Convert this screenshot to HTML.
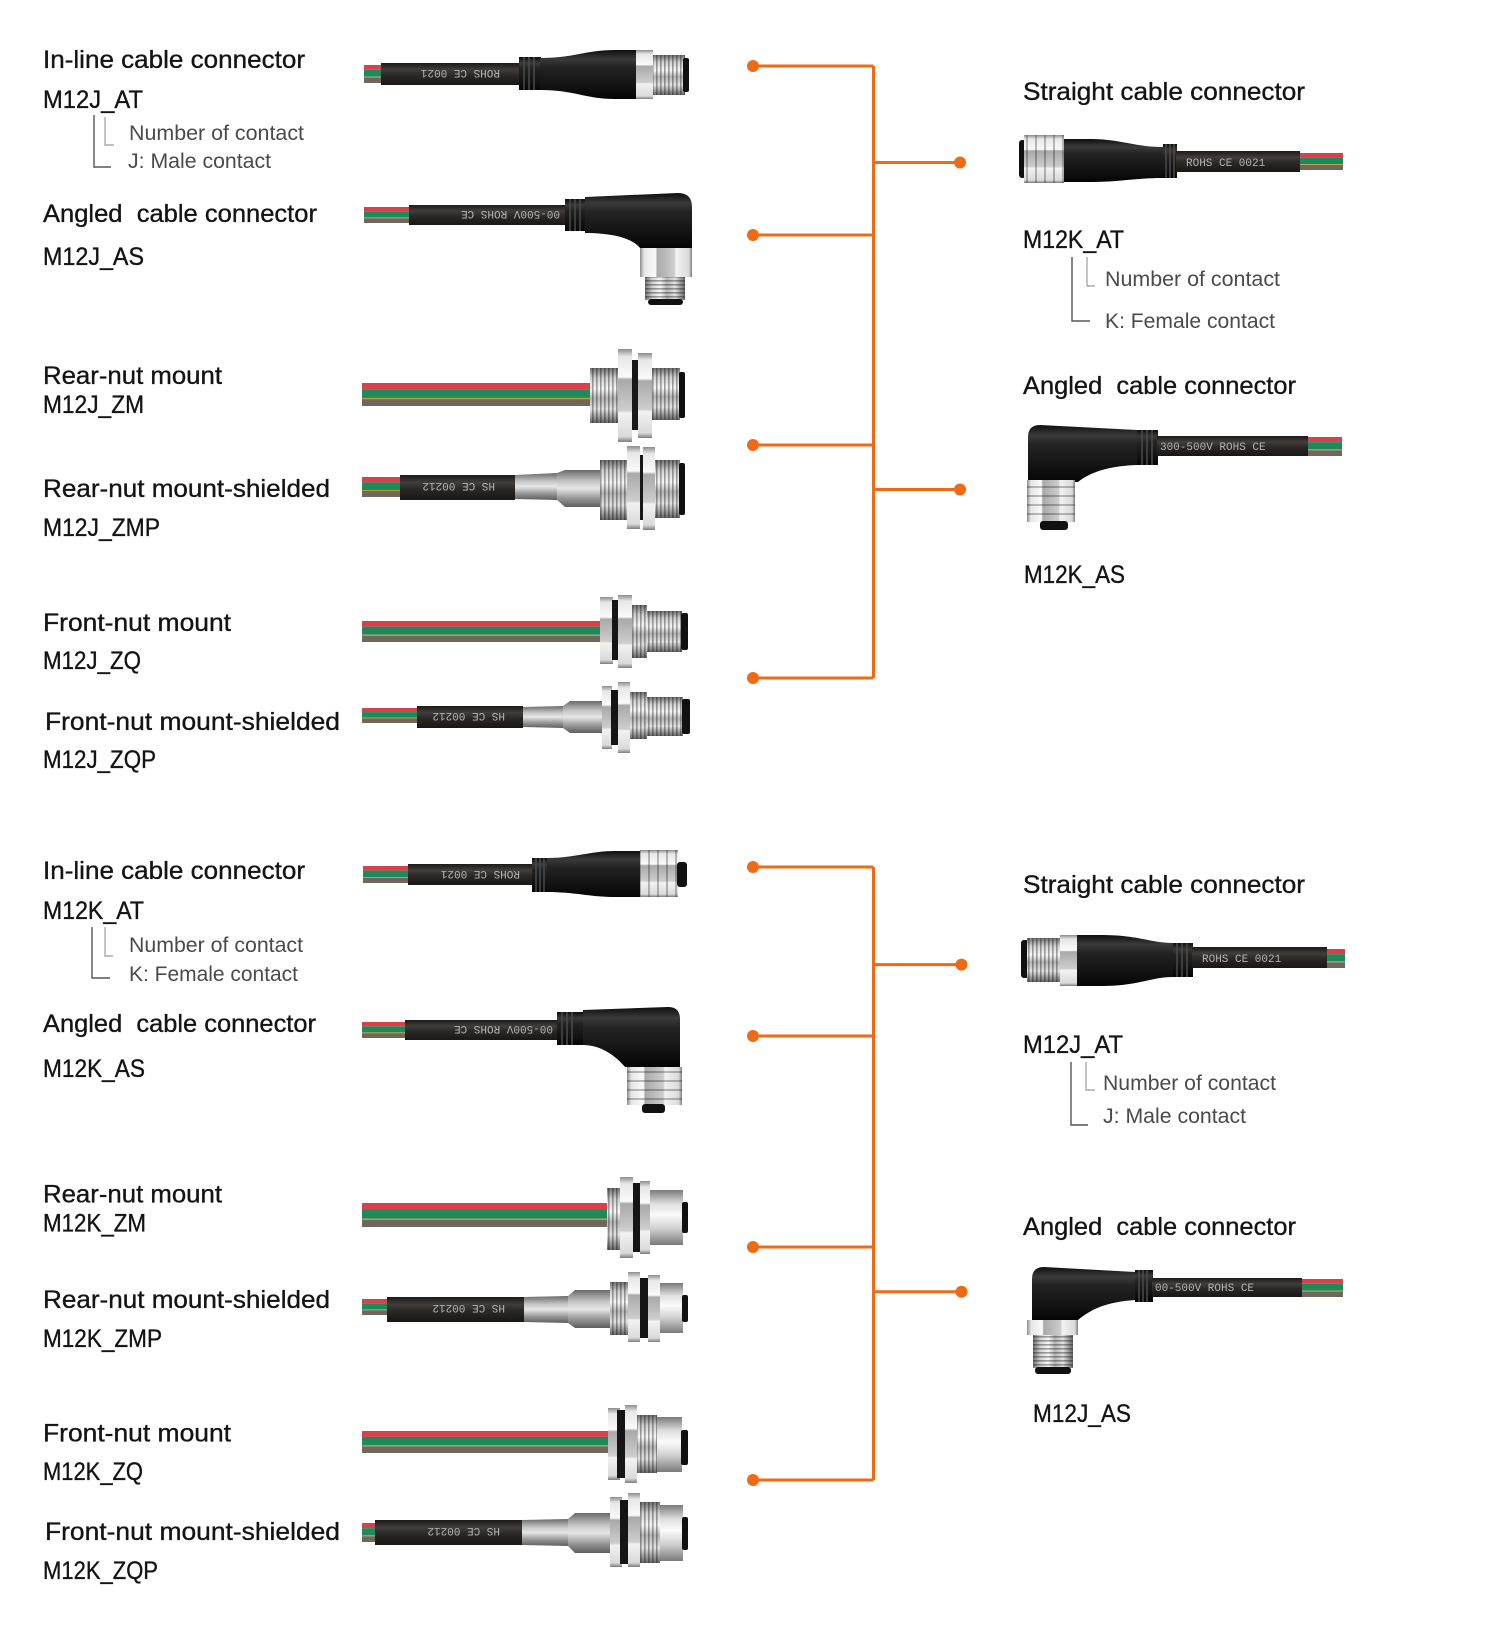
<!DOCTYPE html>
<html><head><meta charset="utf-8">
<style>
html,body{margin:0;padding:0;background:#fff;}
svg{display:block;}
.t{font-family:"Liberation Sans",sans-serif;font-size:25px;fill:#141414;stroke:#141414;stroke-width:0.35;white-space:pre;}
.s{font-family:"Liberation Sans",sans-serif;font-size:21px;fill:#4a4a4a;white-space:pre;}
.p{font-family:"Liberation Mono",monospace;font-size:11px;fill:#b5b5b5;white-space:pre;}
</style></head><body>
<svg width="1488" height="1625" viewBox="0 0 1488 1625" xmlns="http://www.w3.org/2000/svg" xmlns:xlink="http://www.w3.org/1999/xlink">
<defs>
<linearGradient id="mt" x1="0" y1="0" x2="0" y2="1"><stop offset="0" stop-color="#6f6f6f"/><stop offset=".18" stop-color="#cfcfcf"/><stop offset=".38" stop-color="#f7f7f7"/><stop offset=".55" stop-color="#b5b5b5"/><stop offset=".75" stop-color="#e2e2e2"/><stop offset="1" stop-color="#666"/></linearGradient>
<linearGradient id="mtx" x1="0" y1="0" x2="1" y2="0"><stop offset="0" stop-color="#6f6f6f"/><stop offset=".18" stop-color="#cfcfcf"/><stop offset=".38" stop-color="#f7f7f7"/><stop offset=".55" stop-color="#b5b5b5"/><stop offset=".75" stop-color="#e2e2e2"/><stop offset="1" stop-color="#666"/></linearGradient>
<linearGradient id="hx" x1="0" y1="0" x2="0" y2="1"><stop offset="0" stop-color="#8c8c8c"/><stop offset=".08" stop-color="#e6e6e6"/><stop offset=".3" stop-color="#fafafa"/><stop offset=".33" stop-color="#a9a9a9"/><stop offset=".66" stop-color="#cdcdcd"/><stop offset=".69" stop-color="#f2f2f2"/><stop offset=".94" stop-color="#dadada"/><stop offset="1" stop-color="#7c7c7c"/></linearGradient>
<linearGradient id="hxx" x1="0" y1="0" x2="1" y2="0"><stop offset="0" stop-color="#8c8c8c"/><stop offset=".08" stop-color="#e6e6e6"/><stop offset=".3" stop-color="#fafafa"/><stop offset=".33" stop-color="#a9a9a9"/><stop offset=".66" stop-color="#cdcdcd"/><stop offset=".69" stop-color="#f2f2f2"/><stop offset=".94" stop-color="#dadada"/><stop offset="1" stop-color="#7c7c7c"/></linearGradient>
<linearGradient id="bk" x1="0" y1="0" x2="0" y2="1"><stop offset="0" stop-color="#0e0e0e"/><stop offset=".18" stop-color="#3a3a3a"/><stop offset=".35" stop-color="#232323"/><stop offset=".7" stop-color="#141414"/><stop offset="1" stop-color="#050505"/></linearGradient>
<linearGradient id="cb" x1="0" y1="0" x2="0" y2="1"><stop offset="0" stop-color="#1c1b1a"/><stop offset=".3" stop-color="#403d3a"/><stop offset=".55" stop-color="#2b2927"/><stop offset="1" stop-color="#181716"/></linearGradient>
<linearGradient id="sm" x1="0" y1="0" x2="0" y2="1"><stop offset="0" stop-color="#7a7a7a"/><stop offset=".25" stop-color="#dedede"/><stop offset=".45" stop-color="#fbfbfb"/><stop offset=".7" stop-color="#d0d0d0"/><stop offset="1" stop-color="#7a7a7a"/></linearGradient>
<linearGradient id="st" x1="0" y1="0" x2="0" y2="1"><stop offset="0" stop-color="#6a6a6a"/><stop offset=".3" stop-color="#c4c4c4"/><stop offset=".5" stop-color="#e6e6e6"/><stop offset=".75" stop-color="#9a9a9a"/><stop offset="1" stop-color="#5e5e5e"/></linearGradient>
<pattern id="th" width="4" height="4" patternUnits="userSpaceOnUse"><rect width="1.6" height="4" fill="#000" fill-opacity=".35"/></pattern>
<pattern id="thh" width="4" height="4" patternUnits="userSpaceOnUse"><rect width="4" height="1.6" fill="#000" fill-opacity=".35"/></pattern>
<pattern id="kn" width="9" height="12" patternUnits="userSpaceOnUse"><rect width="2" height="12" fill="#000" fill-opacity=".25"/></pattern>
<pattern id="knh" width="12" height="9" patternUnits="userSpaceOnUse"><rect width="12" height="2" fill="#000" fill-opacity=".25"/></pattern>
<symbol id="w" viewBox="0 0 10 100" preserveAspectRatio="none">
<rect x="0" y="0" width="10" height="27" fill="#d8404c"/>
<rect x="0" y="27" width="10" height="38" fill="#1e8a5c"/>
<rect x="0" y="65" width="10" height="5" fill="#b8a030"/>
<rect x="0" y="70" width="10" height="30" fill="#6f675d"/>
</symbol>
</defs>

<!-- ========== ORANGE CONNECTORS ========== -->
<g stroke="#ee6a14" stroke-width="3" fill="none">
<path d="M873.5,66 V678 M753,66 H873.5 M753,235 H873.5 M753,445 H873.5 M753,678 H873.5 M873.5,162.5 H960 M873.5,489.5 H960"/>
<path d="M873.5,867 V1480 M753,867 H873.5 M753,1036 H873.5 M753,1247 H873.5 M753,1480 H873.5 M873.5,964.6 H961.5 M873.5,1291.7 H961.5"/>
</g>
<g fill="#ee6a14">
<circle cx="753" cy="66" r="6"/><circle cx="753" cy="235" r="6"/><circle cx="753" cy="445" r="6"/><circle cx="753" cy="678" r="6"/>
<circle cx="960" cy="162.5" r="6"/><circle cx="960" cy="489.5" r="6"/>
<circle cx="753" cy="867" r="6"/><circle cx="753" cy="1036" r="6"/><circle cx="753" cy="1247" r="6"/><circle cx="753" cy="1480" r="6"/>
<circle cx="961.5" cy="964.6" r="6"/><circle cx="961.5" cy="1291.7" r="6"/>
</g>

<!-- ========== BRACKETS ========== -->
<g fill="none" stroke-width="1.4">
<path d="M94,115 V167 H111" stroke="#555"/><path d="M105,117 V145 H114" stroke="#aaa"/>
<path d="M92,927 V978 H110" stroke="#555"/><path d="M105,927 V956 H113" stroke="#aaa"/>
<path d="M1072,257 V321 H1090" stroke="#555"/><path d="M1087,257 V286 H1095" stroke="#aaa"/>
<path d="M1071,1062 V1125 H1088" stroke="#555"/><path d="M1086,1062 V1090 H1095" stroke="#aaa"/>
</g>

<!-- ========== LEFT TEXT ========== -->
<text class="t" x="43" y="68" textLength="262" lengthAdjust="spacingAndGlyphs">In-line cable connector</text>
<text class="t" x="43" y="108" textLength="100" lengthAdjust="spacingAndGlyphs">M12J_AT</text>
<text class="s" x="129" y="140" textLength="175" lengthAdjust="spacingAndGlyphs">Number of contact</text>
<text class="s" x="128" y="168" textLength="143" lengthAdjust="spacingAndGlyphs">J: Male contact</text>
<text class="t" x="43" y="222" textLength="274" lengthAdjust="spacingAndGlyphs">Angled  cable connector</text>
<text class="t" x="43" y="265" textLength="101" lengthAdjust="spacingAndGlyphs">M12J_AS</text>
<text class="t" x="43" y="384" textLength="179" lengthAdjust="spacingAndGlyphs">Rear-nut mount</text>
<text class="t" x="43" y="413" textLength="101" lengthAdjust="spacingAndGlyphs">M12J_ZM</text>
<text class="t" x="43" y="497" textLength="287" lengthAdjust="spacingAndGlyphs">Rear-nut mount-shielded</text>
<text class="t" x="43" y="536" textLength="117" lengthAdjust="spacingAndGlyphs">M12J_ZMP</text>
<text class="t" x="43" y="631" textLength="188" lengthAdjust="spacingAndGlyphs">Front-nut mount</text>
<text class="t" x="43" y="669" textLength="98" lengthAdjust="spacingAndGlyphs">M12J_ZQ</text>
<text class="t" x="45" y="730" textLength="295" lengthAdjust="spacingAndGlyphs">Front-nut mount-shielded</text>
<text class="t" x="43" y="768" textLength="113" lengthAdjust="spacingAndGlyphs">M12J_ZQP</text>

<text class="t" x="43" y="879" textLength="262" lengthAdjust="spacingAndGlyphs">In-line cable connector</text>
<text class="t" x="43" y="919" textLength="101" lengthAdjust="spacingAndGlyphs">M12K_AT</text>
<text class="s" x="129" y="952" textLength="174" lengthAdjust="spacingAndGlyphs">Number of contact</text>
<text class="s" x="129" y="981" textLength="169" lengthAdjust="spacingAndGlyphs">K: Female contact</text>
<text class="t" x="43" y="1032" textLength="273" lengthAdjust="spacingAndGlyphs">Angled  cable connector</text>
<text class="t" x="43" y="1077" textLength="102" lengthAdjust="spacingAndGlyphs">M12K_AS</text>
<text class="t" x="43" y="1202.5" textLength="179" lengthAdjust="spacingAndGlyphs">Rear-nut mount</text>
<text class="t" x="43" y="1231.5" textLength="103" lengthAdjust="spacingAndGlyphs">M12K_ZM</text>
<text class="t" x="43" y="1308" textLength="287" lengthAdjust="spacingAndGlyphs">Rear-nut mount-shielded</text>
<text class="t" x="43" y="1347" textLength="119" lengthAdjust="spacingAndGlyphs">M12K_ZMP</text>
<text class="t" x="43" y="1441.5" textLength="188" lengthAdjust="spacingAndGlyphs">Front-nut mount</text>
<text class="t" x="43" y="1480" textLength="100" lengthAdjust="spacingAndGlyphs">M12K_ZQ</text>
<text class="t" x="45" y="1540" textLength="295" lengthAdjust="spacingAndGlyphs">Front-nut mount-shielded</text>
<text class="t" x="43" y="1579" textLength="115" lengthAdjust="spacingAndGlyphs">M12K_ZQP</text>

<!-- ========== RIGHT TEXT ========== -->
<text class="t" x="1023" y="100" textLength="282" lengthAdjust="spacingAndGlyphs">Straight cable connector</text>
<text class="t" x="1023" y="248" textLength="101" lengthAdjust="spacingAndGlyphs">M12K_AT</text>
<text class="s" x="1105" y="286" textLength="175" lengthAdjust="spacingAndGlyphs">Number of contact</text>
<text class="s" x="1105" y="328" textLength="170" lengthAdjust="spacingAndGlyphs">K: Female contact</text>
<text class="t" x="1023" y="394" textLength="273" lengthAdjust="spacingAndGlyphs">Angled  cable connector</text>
<text class="t" x="1024" y="583" textLength="101" lengthAdjust="spacingAndGlyphs">M12K_AS</text>
<text class="t" x="1023" y="893" textLength="282" lengthAdjust="spacingAndGlyphs">Straight cable connector</text>
<text class="t" x="1023" y="1053" textLength="100" lengthAdjust="spacingAndGlyphs">M12J_AT</text>
<text class="s" x="1103" y="1090" textLength="173" lengthAdjust="spacingAndGlyphs">Number of contact</text>
<text class="s" x="1103" y="1123" textLength="143" lengthAdjust="spacingAndGlyphs">J: Male contact</text>
<text class="t" x="1023" y="1235" textLength="273" lengthAdjust="spacingAndGlyphs">Angled  cable connector</text>
<text class="t" x="1033" y="1422" textLength="98" lengthAdjust="spacingAndGlyphs">M12J_AS</text>

<!-- ========== A: top in-line male ========== -->
<use href="#w" xlink:href="#w" x="364" y="65" width="18" height="18"/>
<rect x="381" y="63" width="139" height="22" fill="url(#cb)"/>
<text class="p" transform="translate(500,70) rotate(180)">ROHS CE 0021</text>
<rect x="519" y="57" width="22" height="33" fill="url(#bk)"/>
<path d="M524,57v33M529,57v33M534,57v33" stroke="#4a4a4a" stroke-width="1.5"/>
<path d="M540,58 C575,58 585,50 615,50 L636,50 L636,99 L615,99 C585,99 575,90 540,90 Z" fill="url(#bk)"/>
<rect x="636" y="50" width="17" height="49" fill="url(#hx)"/>
<rect x="653" y="55" width="32" height="40" fill="url(#mt)"/><rect x="653" y="55" width="32" height="40" fill="url(#th)"/>
<rect x="683" y="58" width="6" height="34" rx="2" fill="#111"/>

<!-- ========== B: top angled male ========== -->
<use href="#w" xlink:href="#w" x="364" y="207" width="46" height="16"/>
<rect x="409" y="205" width="157" height="20" fill="url(#cb)"/>
<text class="p" transform="translate(560,211) rotate(180)">00-500V ROHS CE</text>
<rect x="565" y="199" width="21" height="32" fill="url(#bk)"/>
<path d="M570,199v32M575,199v32M580,199v32" stroke="#4a4a4a" stroke-width="1.5"/>
<path d="M585,197 L678,193 Q692,193 692,207 L692,248 L640,248 C632,238 612,233 585,233 Z" fill="url(#bk)"/>
<rect x="640" y="248" width="52" height="29" fill="url(#hxx)"/>
<rect x="645" y="277" width="40" height="23" fill="url(#mtx)"/><rect x="645" y="277" width="40" height="23" fill="url(#thh)"/>
<rect x="648" y="299" width="35" height="6" rx="3" fill="#111"/>

<!-- ========== C: M12J_ZM ========== -->
<use href="#w" xlink:href="#w" x="362" y="383" width="228" height="23"/>
<rect x="590" y="368" width="28" height="55" fill="url(#mt)"/><rect x="590" y="368" width="28" height="55" fill="url(#th)"/>
<rect x="618" y="349" width="14" height="93" fill="url(#hx)"/>
<rect x="632" y="360" width="8" height="70" fill="#181818"/>
<rect x="638" y="353" width="14" height="85" fill="url(#hx)"/>
<rect x="652" y="368" width="28" height="52" fill="url(#mt)"/><rect x="652" y="368" width="28" height="52" fill="url(#th)"/>
<rect x="679" y="372" width="6" height="46" rx="2" fill="#111"/>

<!-- ========== D: M12J_ZMP ========== -->
<use href="#w" xlink:href="#w" x="362" y="477" width="39" height="20"/>
<rect x="400" y="475" width="115" height="25" fill="url(#cb)"/>
<text class="p" transform="translate(495,483) rotate(180)">HS CE 00212</text>
<path d="M515,475 L557,473 L557,500 L515,499 Z" fill="url(#st)"/>
<path d="M557,473 L565,470 L600,470 L600,507 L565,507 L557,500 Z" fill="url(#st)"/>
<rect x="600" y="460" width="27" height="60" fill="url(#mt)"/><rect x="600" y="460" width="27" height="60" fill="url(#th)"/>
<rect x="627" y="446" width="13" height="83" fill="url(#hx)"/>
<rect x="640" y="455" width="5" height="65" fill="#181818"/>
<rect x="643" y="447" width="12" height="83" fill="url(#hx)"/>
<rect x="655" y="460" width="25" height="58" fill="url(#mt)"/><rect x="655" y="460" width="25" height="58" fill="url(#th)"/>
<rect x="679" y="463" width="6" height="52" rx="2" fill="#111"/>

<!-- ========== E: M12J_ZQ ========== -->
<use href="#w" xlink:href="#w" x="362" y="621" width="238" height="21"/>
<rect x="600" y="597" width="13" height="67" fill="url(#hx)"/>
<rect x="612" y="600" width="8" height="60" fill="#151515"/>
<rect x="618" y="595" width="14" height="73" fill="url(#hx)"/>
<rect x="632" y="605" width="15" height="53" fill="url(#mt)"/><rect x="632" y="605" width="15" height="53" fill="url(#th)"/>
<rect x="647" y="611" width="35" height="41" fill="url(#mt)"/><rect x="647" y="611" width="35" height="41" fill="url(#th)"/>
<rect x="681" y="613" width="7" height="37" rx="2" fill="#111"/>

<!-- ========== F: M12J_ZQP ========== -->
<use href="#w" xlink:href="#w" x="362" y="708" width="56" height="15"/>
<rect x="417" y="706" width="106" height="22" fill="url(#cb)"/>
<text class="p" transform="translate(505,713) rotate(180)">HS CE 00212</text>
<path d="M523,707 L563,706 L563,728 L523,727 Z" fill="url(#st)"/>
<path d="M563,706 L570,701 L602,701 L602,733 L570,733 L563,728 Z" fill="url(#st)"/>
<rect x="602" y="686" width="10" height="63" fill="url(#hx)"/>
<rect x="611" y="690" width="7" height="55" fill="#151515"/>
<rect x="618" y="682" width="12" height="71" fill="url(#hx)"/>
<rect x="630" y="692" width="17" height="47" fill="url(#mt)"/><rect x="630" y="692" width="17" height="47" fill="url(#th)"/>
<rect x="647" y="697" width="36" height="39" fill="url(#mt)"/><rect x="647" y="697" width="36" height="39" fill="url(#th)"/>
<rect x="682" y="699" width="8" height="35" rx="2" fill="#111"/>

<!-- ========== G: M12K_AT in-line female ========== -->
<use href="#w" xlink:href="#w" x="363" y="866" width="46" height="17"/>
<rect x="408" y="864" width="124" height="21" fill="url(#cb)"/>
<text class="p" transform="translate(520,871) rotate(180)">ROHS CE 0021</text>
<rect x="532" y="858" width="16" height="34" fill="url(#bk)"/>
<path d="M536,858v34M540,858v34M544,858v34" stroke="#4a4a4a" stroke-width="1.5"/>
<path d="M547,858 C575,858 590,851 615,851 L640,851 L640,897 L615,897 C590,897 575,892 547,892 Z" fill="url(#bk)"/>
<rect x="640" y="850" width="38" height="47" fill="url(#hx)"/><rect x="640" y="850" width="38" height="47" fill="url(#kn)"/>
<rect x="677" y="862" width="10" height="25" rx="3" fill="#111"/>

<!-- ========== H: M12K_AS angled female ========== -->
<use href="#w" xlink:href="#w" x="362" y="1022" width="44" height="16"/>
<rect x="405" y="1020" width="152" height="20" fill="url(#cb)"/>
<text class="p" transform="translate(553,1026) rotate(180)">00-500V ROHS CE</text>
<rect x="557" y="1012" width="27" height="33" fill="url(#bk)"/>
<path d="M562,1012v33M567,1012v33M572,1012v33" stroke="#4a4a4a" stroke-width="1.5"/>
<path d="M583,1010 L668,1007 Q680,1007 680,1019 L680,1067 L625,1067 C615,1055 600,1045 583,1045 Z" fill="url(#bk)"/>
<rect x="627" y="1067" width="55" height="38" fill="url(#hxx)"/><rect x="627" y="1067" width="55" height="38" fill="url(#knh)"/>
<rect x="642" y="1104" width="23" height="9" rx="3" fill="#111"/>

<!-- ========== I: M12K_ZM ========== -->
<use href="#w" xlink:href="#w" x="362" y="1203" width="245" height="24"/>
<rect x="607" y="1188" width="13" height="62" fill="url(#mt)"/><rect x="607" y="1188" width="13" height="62" fill="url(#th)"/>
<rect x="620" y="1177" width="13" height="81" fill="url(#hx)"/>
<rect x="633" y="1183" width="7" height="69" fill="#151515"/>
<rect x="640" y="1181" width="10" height="73" fill="url(#hx)"/>
<rect x="650" y="1190" width="33" height="55" fill="url(#sm)"/>
<rect x="682" y="1202" width="6" height="31" rx="2" fill="#111"/>

<!-- ========== J: M12K_ZMP ========== -->
<use href="#w" xlink:href="#w" x="362" y="1299" width="26" height="16"/>
<rect x="387" y="1297" width="137" height="25" fill="url(#cb)"/>
<text class="p" transform="translate(505,1305) rotate(180)">HS CE 00212</text>
<path d="M524,1297 L568,1296 L568,1323 L524,1322 Z" fill="url(#st)"/>
<path d="M568,1296 L575,1290 L610,1290 L610,1328 L575,1328 L568,1323 Z" fill="url(#st)"/>
<rect x="610" y="1282" width="18" height="53" fill="url(#mt)"/><rect x="610" y="1282" width="18" height="53" fill="url(#th)"/>
<rect x="628" y="1272" width="12" height="70" fill="url(#hx)"/>
<rect x="640" y="1278" width="8" height="60" fill="#151515"/>
<rect x="648" y="1275" width="12" height="67" fill="url(#hx)"/>
<rect x="660" y="1283" width="23" height="50" fill="url(#sm)"/>
<rect x="682" y="1295" width="6" height="27" rx="2" fill="#111"/>

<!-- ========== K: M12K_ZQ ========== -->
<use href="#w" xlink:href="#w" x="362" y="1431" width="246" height="22"/>
<rect x="608" y="1408" width="12" height="72" fill="url(#hx)"/>
<rect x="617" y="1410" width="8" height="68" fill="#151515"/>
<rect x="625" y="1405" width="12" height="78" fill="url(#hx)"/>
<rect x="637" y="1415" width="20" height="58" fill="url(#mt)"/><rect x="637" y="1415" width="20" height="58" fill="url(#th)"/>
<rect x="657" y="1417" width="25" height="55" fill="url(#sm)"/>
<rect x="681" y="1430" width="7" height="35" rx="2" fill="#111"/>

<!-- ========== L: M12K_ZQP ========== -->
<use href="#w" xlink:href="#w" x="362" y="1523" width="14" height="19"/>
<rect x="375" y="1520" width="147" height="25" fill="url(#cb)"/>
<text class="p" transform="translate(500,1528) rotate(180)">HS CE 00212</text>
<path d="M522,1520 L568,1519 L568,1546 L522,1545 Z" fill="url(#st)"/>
<path d="M568,1519 L575,1513 L610,1513 L610,1553 L575,1553 L568,1546 Z" fill="url(#st)"/>
<rect x="610" y="1497" width="12" height="70" fill="url(#hx)"/>
<rect x="620" y="1500" width="8" height="64" fill="#151515"/>
<rect x="628" y="1493" width="12" height="74" fill="url(#hx)"/>
<rect x="640" y="1502" width="20" height="61" fill="url(#mt)"/><rect x="640" y="1502" width="20" height="61" fill="url(#th)"/>
<rect x="660" y="1505" width="23" height="56" fill="url(#sm)"/>
<rect x="682" y="1517" width="6" height="33" rx="2" fill="#111"/>

<!-- ========== RT1: right straight female ========== -->
<rect x="1019" y="140" width="7" height="38" rx="3" fill="#111"/>
<rect x="1024" y="135" width="40" height="48" fill="url(#hx)"/><rect x="1024" y="135" width="40" height="48" fill="url(#kn)"/>
<path d="M1064,139 L1090,139 C1120,139 1135,147 1163,147 L1163,178 C1135,178 1120,182 1090,182 L1064,182 Z" fill="url(#bk)"/>
<rect x="1163" y="144" width="14" height="34" fill="url(#bk)"/>
<path d="M1166,144v34M1170,144v34M1174,144v34" stroke="#4a4a4a" stroke-width="1.5"/>
<rect x="1176" y="151" width="124" height="21" fill="url(#cb)"/>
<text class="p" x="1186" y="166">ROHS CE 0021</text>
<use href="#w" xlink:href="#w" x="1300" y="153" width="43" height="17"/>

<!-- ========== RT2: right angled female ========== -->
<path d="M1040,425 L1137,430 L1137,465 C1105,466 1088,474 1078,482 L1028,482 L1028,437 Q1028,425 1040,425 Z" fill="url(#bk)"/>
<rect x="1137" y="430" width="21" height="35" fill="url(#bk)"/>
<path d="M1142,430v35M1147,430v35M1152,430v35" stroke="#4a4a4a" stroke-width="1.5"/>
<rect x="1157" y="436" width="151" height="20" fill="url(#cb)"/>
<text class="p" x="1160" y="450">300-500V ROHS CE</text>
<use href="#w" xlink:href="#w" x="1308" y="437" width="34" height="19"/>
<rect x="1027" y="480" width="48" height="42" fill="url(#hxx)"/><rect x="1027" y="480" width="48" height="42" fill="url(#knh)"/>
<rect x="1040" y="521" width="28" height="9" rx="3" fill="#111"/>

<!-- ========== RB1: right straight male ========== -->
<rect x="1021" y="940" width="8" height="38" rx="3" fill="#111"/>
<rect x="1027" y="938" width="33" height="44" fill="url(#mt)"/><rect x="1027" y="938" width="33" height="44" fill="url(#th)"/>
<rect x="1060" y="935" width="17" height="51" fill="url(#hx)"/>
<path d="M1077,935 L1100,935 C1140,935 1150,943 1173,943 L1173,977 C1150,977 1140,986 1100,986 L1077,986 Z" fill="url(#bk)"/>
<rect x="1173" y="943" width="20" height="34" fill="url(#bk)"/>
<path d="M1177,943v34M1182,943v34M1187,943v34" stroke="#4a4a4a" stroke-width="1.5"/>
<rect x="1192" y="947" width="135" height="21" fill="url(#cb)"/>
<text class="p" x="1202" y="962">ROHS CE 0021</text>
<use href="#w" xlink:href="#w" x="1327" y="949" width="18" height="19"/>

<!-- ========== RB2: right angled male ========== -->
<path d="M1044,1267 L1135,1272 L1135,1300 C1105,1302 1090,1310 1078,1320 L1032,1320 L1032,1279 Q1032,1267 1044,1267 Z" fill="url(#bk)"/>
<rect x="1135" y="1270" width="18" height="32" fill="url(#bk)"/>
<path d="M1139,1270v32M1143,1270v32M1147,1270v32" stroke="#4a4a4a" stroke-width="1.5"/>
<rect x="1152" y="1278" width="150" height="19" fill="url(#cb)"/>
<text class="p" x="1155" y="1291">00-500V ROHS CE</text>
<use href="#w" xlink:href="#w" x="1302" y="1279" width="41" height="18"/>
<rect x="1027" y="1320" width="51" height="15" fill="url(#hxx)"/>
<rect x="1033" y="1335" width="40" height="33" fill="url(#mtx)"/><rect x="1033" y="1335" width="40" height="33" fill="url(#thh)"/>
<rect x="1035" y="1367" width="36" height="7" rx="3" fill="#111"/>
</svg>
</body></html>
